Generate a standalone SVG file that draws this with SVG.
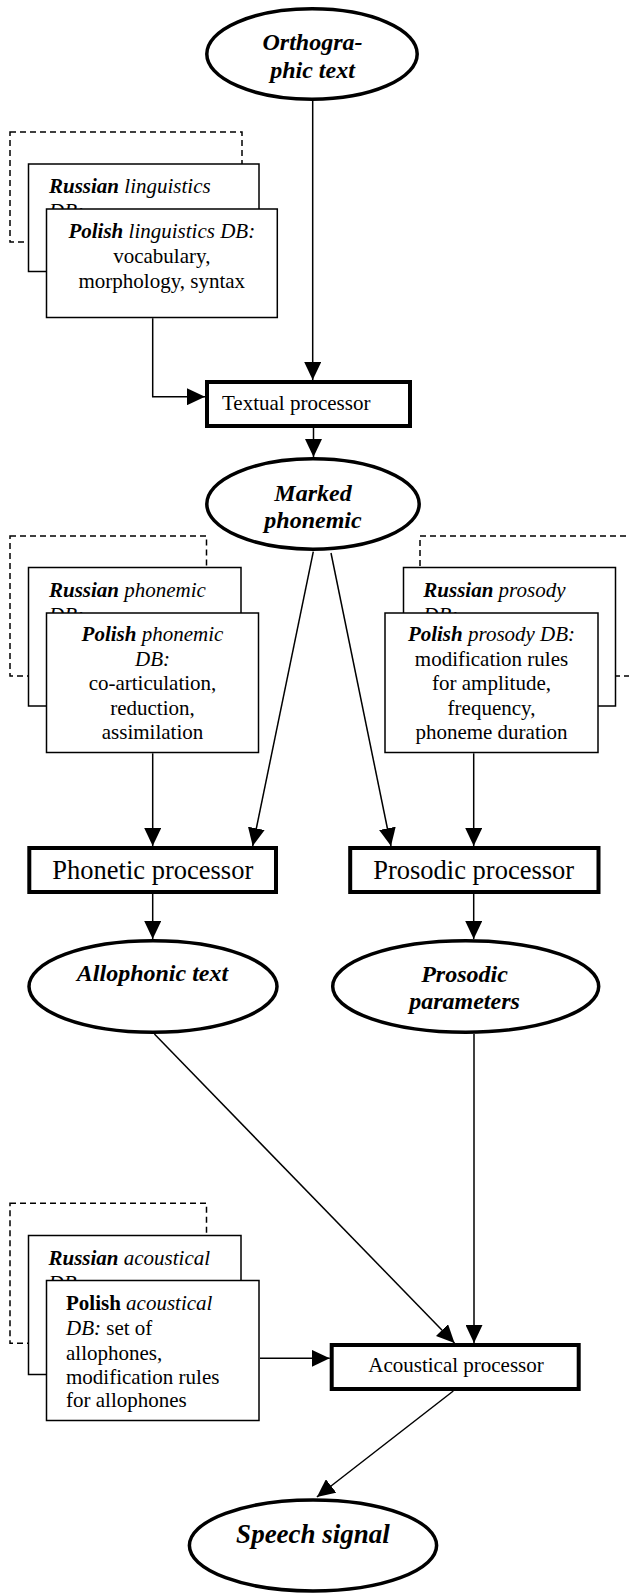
<svg xmlns="http://www.w3.org/2000/svg" width="629" height="1594" viewBox="0 0 629 1594">
<style>
text{font-family:"Liberation Serif","Times New Roman",serif;fill:#000}
.db{font-size:21px}
.c{text-anchor:middle}
.i{font-style:italic}
.bi{font-weight:bold;font-style:italic}
.b{font-weight:bold}
.el{font-size:24px;font-weight:bold;font-style:italic;text-anchor:middle}
.proc{fill:#fff;stroke:#000;stroke-width:4}
.oval{fill:#fff;stroke:#000;stroke-width:3.5}
.box{fill:#fff;stroke:#000;stroke-width:1.5}
.dash{fill:none;stroke:#000;stroke-width:1.5;stroke-dasharray:6 4}
.con{fill:none;stroke:#000;stroke-width:1.5;marker-end:url(#ah)}
</style>
<defs>
<marker id="ah" markerUnits="userSpaceOnUse" markerWidth="18" markerHeight="17" viewBox="0 0 18 17" refX="18" refY="8.5" orient="auto">
<path d="M0,0 L18,8.5 L0,17 z" fill="#000"/>
</marker>
</defs>
<rect x="0" y="0" width="629" height="1594" fill="#fff"/>

<g id="connectors">
<path class="con" d="M312.7,101 L312.7,380"/>
<path class="con" d="M152.7,318.3 L152.7,396.7 L205,396.7"/>
<path class="con" d="M313.5,428 L313.5,457"/>
<path class="con" d="M313.3,551.7 L252.7,846"/>
<path class="con" d="M331,553 L391,846"/>
<path class="con" d="M152.7,753.3 L152.7,846"/>
<path class="con" d="M473.7,753.3 L473.7,846"/>
<path class="con" d="M152.7,894 L152.7,939"/>
<path class="con" d="M473.7,894 L473.7,939"/>
<path class="con" d="M154.4,1034 L454.5,1343"/>
<path class="con" d="M474,1034 L474,1343"/>
<path class="con" d="M260,1358.3 L329.7,1358.3"/>
<path class="con" d="M453.3,1391 L316.9,1497"/>
</g>

<g id="orthographic-text">
<ellipse class="oval" cx="312" cy="54" rx="105.2" ry="45.2"/>
<text class="el" x="312.5" y="50">Orthogra-</text>
<text class="el" x="312.5" y="78">phic text</text>
</g>

<g id="linguistics-db">
<rect class="dash" x="10" y="132" width="232" height="110"/>
<g id="russian-linguistics-db">
<rect class="box" x="28.5" y="164" width="230.5" height="107.5"/>
<text class="db i" x="49" y="193"><tspan class="bi">Russian</tspan> linguistics</text>
<text class="db i" x="49" y="218">DB:</text>
</g>
<g id="polish-linguistics-db">
<rect class="box" x="46.5" y="209" width="230.8" height="108.5"/>
<text class="db c i" x="161.8" y="238.3"><tspan class="bi">Polish</tspan> linguistics DB:</text>
<text class="db c" x="161.8" y="263.3">vocabulary,</text>
<text class="db c" x="161.8" y="287.5">morphology, syntax</text>
</g>
</g>

<g id="textual-processor">
<rect class="proc" x="207" y="382" width="203" height="44"/>
<text class="db" x="222" y="410">Textual processor</text>
</g>

<g id="marked-phonemic">
<ellipse class="oval" cx="313" cy="504" rx="106.2" ry="45.2"/>
<text class="el" x="313" y="501">Marked</text>
<text class="el" x="313" y="528">phonemic</text>
</g>

<g id="phonemic-db">
<rect class="dash" x="10" y="536" width="196.5" height="140"/>
<g id="russian-phonemic-db">
<rect class="box" x="28.5" y="567.5" width="212.5" height="138.5"/>
<text class="db i" x="49" y="596.7"><tspan class="bi">Russian</tspan> phonemic</text>
<text class="db i" x="49" y="621.7">DB:</text>
</g>
<g id="polish-phonemic-db">
<rect class="box" x="46.5" y="613" width="212" height="139.5"/>
<text class="db c i" x="152.5" y="640.7"><tspan class="bi">Polish</tspan> phonemic</text>
<text class="db c i" x="152.5" y="666">DB:</text>
<text class="db c" x="152.5" y="690">co-articulation,</text>
<text class="db c" x="152.5" y="715">reduction,</text>
<text class="db c" x="152.5" y="739">assimilation</text>
</g>
</g>

<g id="prosody-db">
<rect class="dash" x="420" y="536" width="240" height="140"/>
<g id="russian-prosody-db">
<rect class="box" x="403.5" y="567.5" width="212" height="138.5"/>
<text class="db i" x="423.3" y="596.5"><tspan class="bi">Russian</tspan> prosody</text>
<text class="db i" x="423.3" y="621.5">DB:</text>
</g>
<g id="polish-prosody-db">
<rect class="box" x="385" y="613" width="213" height="139.5"/>
<text class="db c i" x="491.5" y="640.7"><tspan class="bi">Polish</tspan> prosody DB:</text>
<text class="db c" x="491.5" y="666">modification rules</text>
<text class="db c" x="491.5" y="690">for amplitude,</text>
<text class="db c" x="491.5" y="715">frequency,</text>
<text class="db c" x="491.5" y="739">phoneme duration</text>
</g>
</g>

<g id="phonetic-processor">
<rect class="proc" x="29.3" y="848" width="246.7" height="44"/>
<text class="c" style="font-size:26.5px" x="152.8" y="879">Phonetic processor</text>
</g>

<g id="prosodic-processor">
<rect class="proc" x="350.2" y="848" width="248.3" height="44"/>
<text class="c" style="font-size:26.5px" x="473.7" y="879">Prosodic processor</text>
</g>

<g id="allophonic-text">
<ellipse class="oval" cx="153" cy="986.5" rx="124" ry="45.7"/>
<text class="el" x="152.5" y="981">Allophonic text</text>
</g>

<g id="prosodic-parameters">
<ellipse class="oval" cx="465.7" cy="986.5" rx="133" ry="45.7"/>
<text class="el" x="464.5" y="982">Prosodic</text>
<text class="el" x="464.5" y="1009">parameters</text>
</g>

<g id="acoustical-db">
<rect class="dash" x="10" y="1203.3" width="196.5" height="140"/>
<g id="russian-acoustical-db">
<rect class="box" x="28.5" y="1235.5" width="212.5" height="139"/>
<text class="db i" x="48.5" y="1265"><tspan class="bi">Russian</tspan> acoustical</text>
<text class="db i" x="48.5" y="1290">DB:</text>
</g>
<g id="polish-acoustical-db">
<rect class="box" x="46.5" y="1280.5" width="212.5" height="140"/>
<text class="db i" x="66" y="1310"><tspan class="b" style="font-style:normal">Polish</tspan> acoustical</text>
<text class="db" x="66" y="1335"><tspan class="i">DB:</tspan> set of</text>
<text class="db" x="66" y="1360">allophones,</text>
<text class="db" x="66" y="1383.5">modification rules</text>
<text class="db" x="66" y="1407">for allophones</text>
</g>
</g>

<g id="acoustical-processor">
<rect class="proc" x="331.7" y="1345" width="247" height="44"/>
<text class="db c" x="456" y="1372">Acoustical processor</text>
</g>

<g id="speech-signal">
<ellipse class="oval" cx="313" cy="1545.5" rx="123.6" ry="45.5"/>
<text class="el" style="font-size:27px" x="313" y="1543">Speech signal</text>
</g>
</svg>
